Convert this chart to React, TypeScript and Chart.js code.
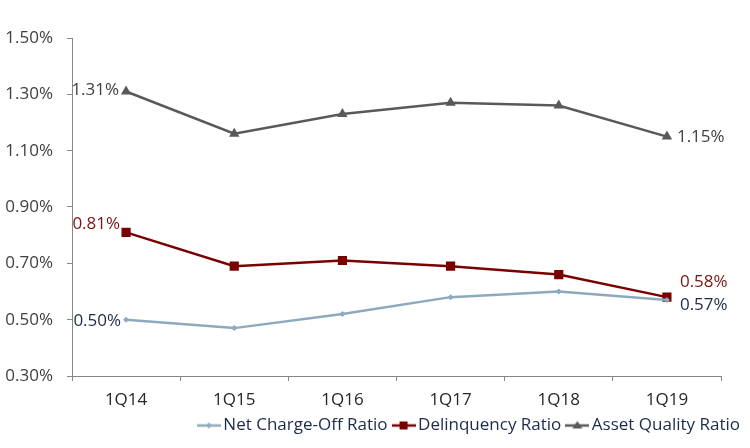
import React, { useEffect, useRef } from "react";
import { Chart, registerables } from "chart.js";

Chart.register(...registerables);

const categories = ["1Q14", "1Q15", "1Q16", "1Q17", "1Q18", "1Q19"];
const seriesNames = ["Net Charge-Off Ratio", "Delinquency Ratio", "Asset Quality Ratio"];
const netChargeOff = [0.5, 0.47, 0.52, 0.58, 0.6, 0.57];
const delinquency = [0.81, 0.69, 0.71, 0.69, 0.66, 0.58];
const assetQuality = [1.31, 1.16, 1.23, 1.27, 1.26, 1.15];
const yTickValues = [0.3, 0.5, 0.7, 0.9, 1.1, 1.3, 1.5];

const FONT = "'Open Sans', 'Noto Sans', sans-serif";
const FS = 17;

const seriesStyles = [
  { color: "#8DA9BD", labelColor: "#1C2B48", pointStyle: "rectRot", radius: 3, first: { dx: -5, dy: 1 }, last: { dx: 13, dy: 5 } },
  { color: "#7A0000", labelColor: "#7A1414", pointStyle: "rect", radius: 6.5, first: { dx: -6, dy: -8 }, last: { dx: 13, dy: -15 } },
  { color: "#595959", labelColor: "#404040", pointStyle: "triangle", radius: 6, first: { dx: -7, dy: -1 }, last: { dx: 10, dy: 1 } },
];

function makeLegendIcon(color: string, style: string, radius: number): HTMLCanvasElement {
  const c = document.createElement("canvas");
  c.width = 24;
  c.height = 12;
  const ctx = c.getContext("2d")!;
  ctx.strokeStyle = color;
  ctx.lineWidth = 2.5;
  ctx.beginPath();
  ctx.moveTo(0, 6);
  ctx.lineTo(24, 6);
  ctx.stroke();
  ctx.fillStyle = color;
  ctx.beginPath();
  if (style === "rect") {
    ctx.rect(12 - 4, 6 - 4, 8, 8);
  } else if (style === "triangle") {
    ctx.moveTo(12, 6 - 4.5);
    ctx.lineTo(12 + 5, 6 + 3);
    ctx.lineTo(12 - 5, 6 + 3);
    ctx.closePath();
  } else {
    ctx.moveTo(12, 6 - radius);
    ctx.lineTo(12 + radius, 6);
    ctx.lineTo(12, 6 + radius);
    ctx.lineTo(12 - radius, 6);
    ctx.closePath();
  }
  ctx.fill();
  return c;
}

const endLabelPlugin = {
  id: "endLabels",
  afterDatasetsDraw(chart: any) {
    const ctx = chart.ctx;
    ctx.save();
    ctx.font = `${FS}px ${FONT}`;
    ctx.textBaseline = "middle";
    chart.data.datasets.forEach((ds: any, di: number) => {
      const meta = chart.getDatasetMeta(di);
      const st = seriesStyles[di];
      const idxs = [0, ds.data.length - 1];
      idxs.forEach((idx, k) => {
        const pt = meta.data[idx];
        if (!pt) return;
        const off = k === 0 ? st.first : st.last;
        ctx.fillStyle = st.labelColor;
        ctx.textAlign = k === 0 ? "right" : "left";
        ctx.fillText(`${Number(ds.data[idx]).toFixed(2)}%`, pt.x + off.dx, pt.y + off.dy);
      });
    });
    ctx.restore();
  },
};

export default function App() {
  const ref = useRef<HTMLCanvasElement | null>(null);

  useEffect(() => {
    if (!ref.current) return;
    const values = [netChargeOff, delinquency, assetQuality];
    const icons = seriesStyles.map((s) => makeLegendIcon(s.color, s.pointStyle, s.radius));
    const chart = new Chart(ref.current, {
      type: "line",
      data: {
        labels: categories,
        datasets: values.map((v, i) => ({
          label: seriesNames[i],
          data: v,
          borderColor: seriesStyles[i].color,
          backgroundColor: seriesStyles[i].color,
          pointBackgroundColor: seriesStyles[i].color,
          pointBorderColor: seriesStyles[i].color,
          pointBorderWidth: 0,
          pointStyle: seriesStyles[i].pointStyle as any,
          pointRadius: seriesStyles[i].radius,
          borderWidth: 2.5,
          tension: 0,
          fill: false,
        })),
      },
      options: {
        animation: false,
        responsive: false,
        devicePixelRatio: 1,
        layout: { padding: { left: 0, right: 0, top: 38, bottom: 4 } },
        font: { family: FONT },
        plugins: {
          legend: {
            position: "bottom",
            align: "end",
            labels: {
              usePointStyle: true,
              pointStyleWidth: 12,
              padding: 10,
              color: "#1C2B48",
              font: { family: FONT, size: FS },
              generateLabels: (ch: any) => {
                const base = Chart.defaults.plugins.legend.labels.generateLabels(ch);
                return base.map((item: any, i: number) => ({ ...item, pointStyle: icons[i] }));
              },
            },
          },
          tooltip: { enabled: false },
        },
        scales: {
          x: {
            offset: true,
            grid: { display: true, offset: true, drawOnChartArea: false, drawTicks: true, tickLength: 5, color: "#868686" },
            border: { display: true, color: "#868686", width: 1 },
            ticks: { color: "#262626", font: { family: FONT, size: FS }, padding: 9, maxRotation: 0 },
            afterFit: (s: any) => {
              s.height = 31;
            },
          },
          y: {
            min: 0.3,
            max: 1.5,
            grid: { display: true, drawOnChartArea: false, drawTicks: true, tickLength: 5, color: "#868686" },
            border: { display: true, color: "#868686", width: 1 },
            ticks: {
              color: "#404040",
              font: { family: FONT, size: FS },
              padding: 14,
              callback: (v: any) => `${Number(v).toFixed(2)}%`,
            },
            afterBuildTicks: (s: any) => {
              s.ticks = yTickValues.map((v) => ({ value: v }));
            },
            afterFit: (s: any) => {
              s.width = 72;
            },
          },
          yRight: {
            position: "right",
            display: true,
            grid: { display: false },
            border: { display: false },
            ticks: { display: false },
            afterFit: (s: any) => {
              s.width = 29;
            },
          },
        },
      },
      plugins: [endLabelPlugin],
    } as any);
    return () => chart.destroy();
  }, []);

  return (
    <div style={{ position: "absolute", left: 0, top: 0, width: 750, height: 448, background: "#fff" }}>
      <canvas ref={ref} width={750} height={448} style={{ width: 750, height: 448, display: "block" }} />
    </div>
  );
}
